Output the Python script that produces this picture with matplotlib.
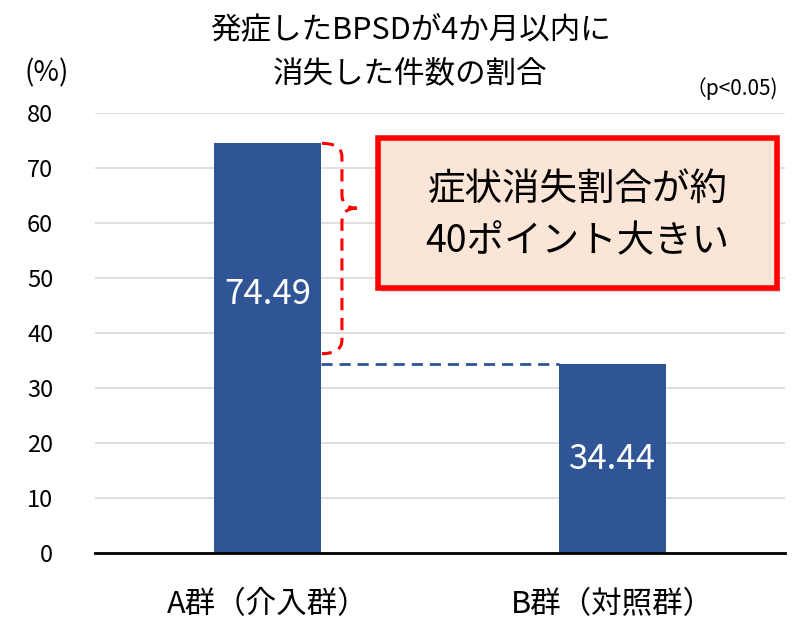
import matplotlib
matplotlib.use("Agg")
import matplotlib.pyplot as plt
from matplotlib.path import Path
from matplotlib.patches import PathPatch, Rectangle

plt.rcParams['font.family'] = ['Noto Sans CJK JP', 'DejaVu Sans']

# data
groups = ["A群（介入群）", "B群（対照群）"]
values = [74.49, 34.44]
value_labels = ["74.49", "34.44"]
yticks = [0, 10, 20, 30, 40, 50, 60, 70, 80]

bar_color = "#2F5597"

fig = plt.figure(figsize=(7.97, 6.21), dpi=100)
ax = fig.add_axes([0.119, 0.1095, 0.866, 0.7085])

x = list(range(len(groups)))
ax.bar(x, values, width=0.31, color=bar_color, zorder=3)
ax.set_xlim(-0.5, 1.5)
ax.set_ylim(0, 80)
ax.set_yticks(yticks)
ax.set_yticklabels([str(t) for t in yticks], fontsize=17)
ax.set_xticks(x)
ax.set_xticklabels(groups, fontsize=22)
ax.tick_params(axis="both", length=0)
ax.tick_params(axis="y", pad=30)
ax.tick_params(axis="x", pad=26)
ax.grid(axis="y", color="#D9D9D9", lw=1.2, zorder=0)
for s in ["top", "right", "left"]:
    ax.spines[s].set_visible(False)
ax.spines["bottom"].set_linewidth(2)
ax.spines["bottom"].set_zorder(4)

# value labels inside bars
label_y = [47, 17]
for xi, ly, t in zip(x, label_y, value_labels):
    ax.text(xi, ly, t, color="white", ha="center", va="center", fontsize=25, zorder=5)

# dashed line at B level
ax.plot([0.155, 0.845], [values[1], values[1]], ls=(0, (4, 2.5)), color=bar_color, lw=2, zorder=4)

# curly brace (red dashed)
x0, x1, x2 = 0.158, 0.216, 0.259
ytop, ybot, ymid = values[0], values[1] + 1.8, 62.7
r = 2.5
verts = [
    (x0, ytop), (x1, ytop), (x1, ytop - r),
    (x1, ymid + r),
    (x1, ymid), (x2, ymid), (x2, ymid),
    (x1, ymid), (x1, ymid - r),
    (x1, ybot + r),
    (x1, ybot), (x0, ybot),
]
codes = [Path.MOVETO, Path.CURVE3, Path.CURVE3,
         Path.LINETO,
         Path.CURVE3, Path.CURVE3, Path.MOVETO,
         Path.CURVE3, Path.CURVE3,
         Path.LINETO,
         Path.CURVE3, Path.CURVE3]
ax.add_patch(PathPatch(Path(verts, codes), fill=False, ec="#FF0000", lw=2.2,
                       ls=(0, (4, 2.5)), zorder=5, clip_on=False))

# callout box
bx0, by0, bw, bh = 0.474, 0.536, 0.501, 0.242
fig.patches.append(Rectangle((bx0 + 0.004, by0 - 0.006), bw, bh, transform=fig.transFigure,
                             fc="#BBBBBB", ec="none", alpha=0.6, zorder=5))
fig.patches.append(Rectangle((bx0, by0), bw, bh, transform=fig.transFigure,
                             fc="#FBE5D6", ec="#FF0000", lw=4, zorder=6))
fig.text(bx0 + bw / 2, 0.695, "症状消失割合が約", ha="center", va="center", fontsize=27, zorder=7)
fig.text(bx0 + bw / 2, 0.610, "40ポイント大きい", ha="center", va="center", fontsize=27, zorder=7)

# titles / notes
fig.text(0.515, 0.953, "発症したBPSDが4か月以内に", ha="center", va="center", fontsize=22)
fig.text(0.515, 0.882, "消失した件数の割合", ha="center", va="center", fontsize=22)
fig.text(0.058, 0.882, "(%)", ha="center", va="center", fontsize=20)
fig.text(0.918, 0.857, "（p<0.05)", ha="center", va="center", fontsize=15)

fig.savefig("out.png", dpi=100)
